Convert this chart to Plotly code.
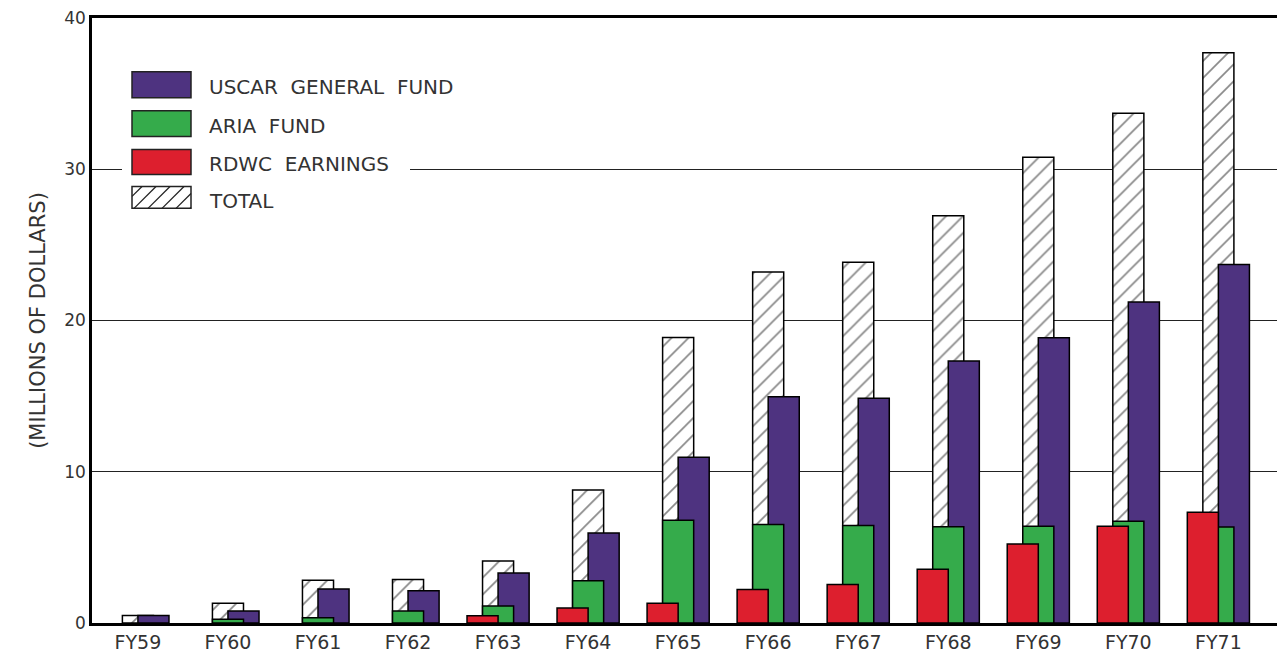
import plotly.graph_objects as go

years = ["FY59", "FY60", "FY61", "FY62", "FY63", "FY64", "FY65",
         "FY66", "FY67", "FY68", "FY69", "FY70", "FY71"]
uscar = [0.5, 0.8, 2.24, 2.13, 3.3, 5.95, 10.96, 14.96, 14.86, 17.32, 18.86, 21.23, 23.7]
aria = [0.0, 0.25, 0.35, 0.79, 1.12, 2.79, 6.79, 6.52, 6.44, 6.37, 6.4, 6.73, 6.35]
rdwc = [0.0, 0.0, 0.0, 0.0, 0.48, 0.99, 1.3, 2.22, 2.55, 3.56, 5.23, 6.4, 7.32]
total = [0.5, 1.3, 2.83, 2.88, 4.1, 8.8, 18.87, 23.2, 23.85, 26.92, 30.8, 33.7, 37.7]

legend_labels = ["USCAR  GENERAL  FUND", "ARIA  FUND", "RDWC  EARNINGS", "TOTAL"]

PURPLE = "#4e3380"
GREEN = "#35ab4b"
RED = "#dd1f2e"
TXT = "#333333"
FONT = "DejaVu Sans"

# page has an 8px body margin; figure sized to fill the rest of the window
OFF = 8
W, H = 1285 - OFF, 657 - OFF
ML, MR, MT, MB = 92 - OFF, 0, 16 - OFF, 34
PW = W - ML - MR
PH = H - MT - MB
PLOT_L = 92          # page px of plot left
PLOT_B = 623         # page px of plot bottom


def px(x):
    return (x - PLOT_L) / PW


def py(y):
    return (PLOT_B - y) / PH


def nz(vals):
    return [v if v else None for v in vals]


BW = 0.345
line = dict(color="black", width=1.5)

fig = go.Figure()
fig.add_trace(go.Bar(
    x=years, y=total, name="TOTAL", width=BW, offset=-BW / 2,
    marker=dict(color="white", line=line,
                pattern=dict(shape="/", fgcolor="#111111", bgcolor="white",
                             size=12, solidity=0.14)),
    showlegend=False))
fig.add_trace(go.Bar(
    x=years, y=nz(uscar), name="USCAR GENERAL FUND", width=BW, offset=0.0,
    marker=dict(color=PURPLE, line=line), showlegend=False))
fig.add_trace(go.Bar(
    x=years, y=nz(aria), name="ARIA FUND", width=BW, offset=-BW / 2,
    marker=dict(color=GREEN, line=line), showlegend=False))
fig.add_trace(go.Bar(
    x=years, y=nz(rdwc), name="RDWC EARNINGS", width=BW, offset=-BW,
    marker=dict(color=RED, line=line), showlegend=False))

# ---- hand-drawn style legend ----
shapes = []
shapes.append(dict(type="rect", xref="paper", yref="paper", layer="above",
                   x0=px(122), x1=px(410), y0=py(215), y1=py(58),
                   fillcolor="white", line=dict(width=0)))
boxes = [(70, 96, PURPLE), (109, 135, GREEN), (148, 173, RED), (185, 207, "white")]
bx0, bx1 = 132, 191
for (y0, y1, col) in boxes:
    shapes.append(dict(type="rect", xref="paper", yref="paper", layer="above",
                       x0=px(bx0), x1=px(bx1), y0=py(y1), y1=py(y0),
                       fillcolor=col, line=dict(color="#222", width=1.5)))
# hatch lines in TOTAL box
hy0, hy1 = 185, 207
hh = hy1 - hy0
for k in range(-1, 6):
    xb = 120 + k * 14
    xs, ys = xb, hy1
    xe, ye = xb + hh, hy0
    if xs < bx0:
        ys = hy1 - (bx0 - xs)
        xs = bx0
    if xe > bx1:
        ye = hy1 - (bx1 - xb)
        xe = bx1
    if xe <= xs:
        continue
    shapes.append(dict(type="line", xref="paper", yref="paper", layer="above",
                       x0=px(xs), y0=py(ys), x1=px(xe), y1=py(ye),
                       line=dict(color="#222", width=1.3)))

annotations = []
text_y = [85, 124, 162, 200]
for lab, ty in zip(legend_labels, text_y):
    annotations.append(dict(text=lab, xref="paper", yref="paper",
                            x=px(207), y=py(ty), xanchor="left", yanchor="middle",
                            showarrow=False, font=dict(family=FONT, size=20, color=TXT)))

fig.update_layout(
    width=W, height=H,
    margin=dict(l=ML, r=MR, t=MT, b=MB, pad=0),
    barmode="overlay",
    plot_bgcolor="white", paper_bgcolor="white",
    font=dict(family=FONT, size=18, color=TXT),
    shapes=shapes, annotations=annotations,
    xaxis=dict(type="category", categoryorder="array", categoryarray=years,
               range=[-0.51, 12.74], showgrid=False, showline=True,
               linecolor="black", linewidth=3, mirror=True, ticks="",
               tickfont=dict(family=FONT, size=19, color=TXT)),
    yaxis=dict(range=[0, 40], tickvals=[0, 10, 20, 30, 40], showgrid=True,
               gridcolor="#222", gridwidth=1.2, zeroline=False,
               showline=True, linecolor="black", linewidth=2.5, ticks="",
               ticklabeloverflow="allow",
               tickfont=dict(family=FONT, size=17, color=TXT),
               title=dict(text="(MILLIONS OF DOLLARS)", standoff=13,
                          font=dict(family=FONT, size=21, color=TXT))),
)

fig.write_html("out.html", config={"displayModeBar": False})
